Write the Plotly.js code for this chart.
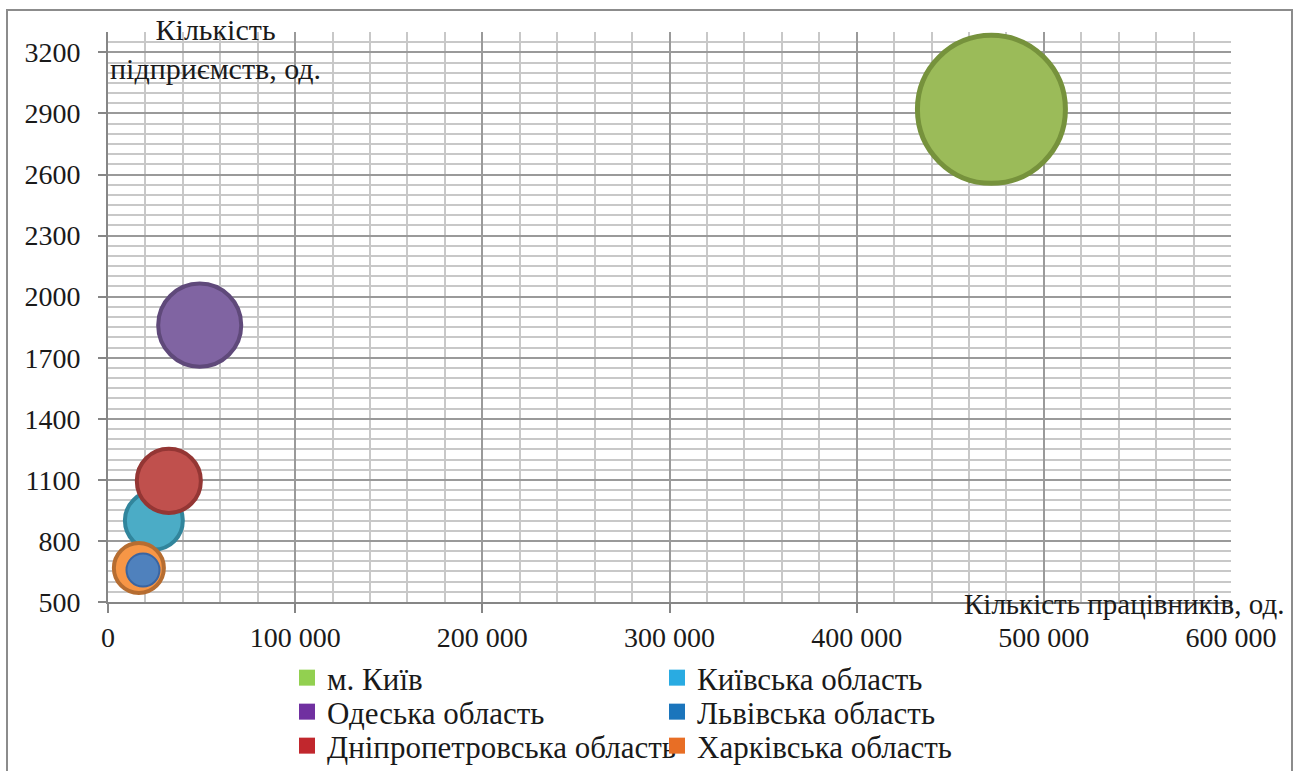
<!DOCTYPE html>
<html>
<head>
<meta charset="utf-8">
<script src="https://cdn.plot.ly/plotly-3.0.1.min.js"></script>
<style>html,body{margin:0;padding:0;background:#fff;}#chart{width:1294px;height:771px;}</style>
</head>
<body>
<div id="chart"></div>
<script>
// Data, in drawing order
const regions = ['м. Київ', 'Одеська область', 'Київська область', 'Дніпропетровська область', 'Харківська область', 'Львівська область'];
const workers = [472000, 49000, 24500, 32500, 16500, 18700];      // Кількість працівників, од.
const enterprises = [2920, 1860, 900, 1095, 667, 657];             // Кількість підприємств, од.
const bubbleValues = [219, 69, 33.6, 41, 25, 10.9];                // relative bubble size
const fillColors = ['#9BBB59', '#8064A2', '#4BACC6', '#C0504D', '#F79646', '#4F81BD'];
const lineColors = ['#76923C', '#5F497A', '#31859C', '#943634', '#B66D31', '#3A64A0'];
const lineWidths = [5, 4, 4, 4, 4, 2];

// Legend (order as in the reference, two columns)
const legendNames = ['м. Київ', 'Київська область', 'Одеська область', 'Львівська область', 'Дніпропетровська область', 'Харківська область'];
const legendColors = ['#92D050', '#29ABE2', '#7030A0', '#1B75BC', '#C1272D', '#E86E25'];

// Axis ticks
const xTickVals = [0, 100000, 200000, 300000, 400000, 500000, 600000];
const xTickText = ['0', '100 000', '200 000', '300 000', '400 000', '500 000', '600 000'];
const yTickVals = [500, 800, 1100, 1400, 1700, 2000, 2300, 2600, 2900, 3200];

const FONT = 'Liberation Serif, Times New Roman, serif';
const TXT = '#1a1a1a';

const traces = [];
regions.forEach((r, i) => {
  traces.push({
    type: 'scatter', mode: 'markers', name: r, showlegend: false,
    x: [workers[i]], y: [enterprises[i]],
    marker: {size: [bubbleValues[i]], sizemode: 'area', sizeref: 0.02, color: fillColors[i], opacity: 1,
             line: {color: lineColors[i], width: lineWidths[i]}},
    hoverinfo: 'name+x+y'
  });
});

const legendIds = ['legend', 'legend2', 'legend3', 'legend4', 'legend5', 'legend6'];
legendNames.forEach((n, i) => {
  traces.push({
    type: 'scatter', mode: 'markers', name: n, showlegend: true, legend: legendIds[i],
    x: [null], y: [null],
    marker: {symbol: 'square', size: 16, color: legendColors[i]}
  });
});

// plot area: left 108, right 1231, top 32, bottom 602
const L = 108, R = 1231, T = 32, B = 602;
const W = R - L, H = B - T;
const px = x => (x - L) / W;
const py = y => (B - y) / H;

const layout = {
  width: 1294, height: 771,
  margin: {l: L, r: 1294 - R, t: T, b: 771 - B, autoexpand: false},
  paper_bgcolor: '#ffffff', plot_bgcolor: '#ffffff',
  font: {family: FONT, size: 28, color: TXT},
  showlegend: true,
  xaxis: {
    range: [0, 600000], tickvals: xTickVals, ticktext: xTickText,
    showgrid: true, gridcolor: '#9a9a9a', gridwidth: 2,
    minor: {dtick: 20000, tick0: 0, showgrid: true, gridcolor: '#c8c8c8', gridwidth: 2, ticks: ''},
    showline: true, linecolor: '#868686', linewidth: 2,
    ticks: 'outside', ticklen: 9, tickwidth: 2, tickcolor: '#868686',
    zeroline: false, fixedrange: true,
    tickfont: {family: FONT, size: 28, color: TXT}
  },
  yaxis: {
    range: [500, 3300], tickvals: yTickVals,
    showgrid: true, gridcolor: '#9a9a9a', gridwidth: 2,
    minor: {dtick: 50, tick0: 500, showgrid: true, gridcolor: '#c8c8c8', gridwidth: 2, ticks: ''},
    showline: true, linecolor: '#868686', linewidth: 2,
    ticks: 'outside', ticklen: 8, tickwidth: 2, tickcolor: '#868686',
    ticklabelstandoff: 12,
    zeroline: false, fixedrange: true,
    tickfont: {family: FONT, size: 28, color: TXT}
  },
  annotations: [
    {text: 'Кількість<br>підприємств, од.', xref: 'paper', yref: 'paper',
     x: px(215), y: py(49), xanchor: 'center', yanchor: 'middle', showarrow: false,
     font: {family: FONT, size: 30, color: TXT}},
    {text: 'Кількість працівників, од.', xref: 'paper', yref: 'paper',
     x: px(1286), y: py(604), xanchor: 'right', yanchor: 'middle', showarrow: false,
     font: {family: FONT, size: 29, color: TXT}}
  ],
  shapes: [
    {type: 'rect', xref: 'paper', yref: 'paper', x0: px(7), x1: px(1292), y0: py(10), y1: py(790),
     line: {color: '#8c8c8c', width: 2}, fillcolor: 'rgba(0,0,0,0)', layer: 'above'}
  ]
};

const colX = [287, 657];
const rowY = [678, 712, 746];
legendIds.forEach((id, i) => {
  layout[id] = {
    x: px(colX[i % 2]), y: py(rowY[Math.floor(i / 2)]), xanchor: 'left', yanchor: 'middle',
    orientation: 'v', bgcolor: 'rgba(0,0,0,0)', borderwidth: 0, itemsizing: 'trace',
    font: {family: FONT, size: 31, color: TXT}, itemclick: false, itemdoubleclick: false
  };
});

Plotly.newPlot('chart', traces, layout, {displayModeBar: false, staticPlot: true});
</script>
</body>
</html>
